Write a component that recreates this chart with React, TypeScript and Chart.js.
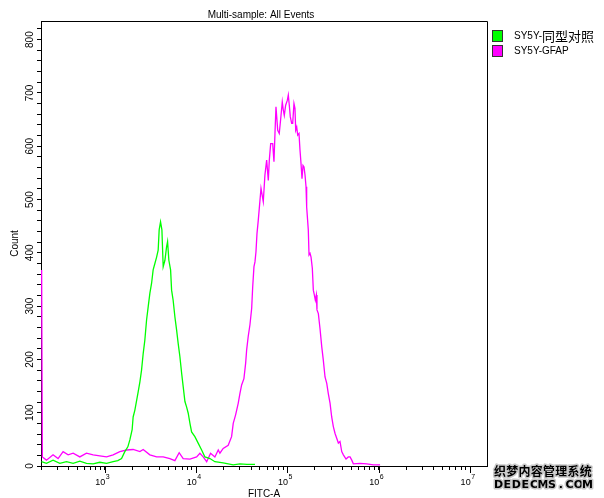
import { useEffect, useRef } from 'react';
import { Chart, registerables } from 'chart.js';

Chart.register(...registerables);

// ---------- text ----------
const chartTitle = 'Multi-sample: All Events';
const xAxisTitle = 'FITC-A';
const yAxisTitle = 'Count';
const seriesLabels = ['SY5Y-同型对照', 'SY5Y-GFAP'];
const seriesColors = ['#00ff00', '#ff00ff'];
const watermarkLines = ['织梦内容管理系统', 'DEDECMS.COM'];

// ---------- axes ----------
const xMin = 200;
const xMax = 1.53e7;
const yMin = 0;
const yMax = 835;
const xMantissas = [1, 2, 3, 4, 5, 6, 7, 8, 9];
const xExponents = [2, 3, 4, 5, 6, 7];
const xMajorExponents = [3, 4, 5, 6, 7];
const yTickStep = 20;
const yLabelValues = [0, 100, 200, 300, 400, 500, 600, 700, 800];

// ---------- series: isotype control (log10 FITC-A, count) ----------
const isotypeLogFitc = [
  2.306, 2.361, 2.433, 2.507, 2.58, 2.653, 2.726, 2.799, 2.872, 2.945,
  3.019, 3.091, 3.142, 3.183, 3.219, 3.252, 3.274, 3.299, 3.31, 3.329,
  3.365, 3.384, 3.402, 3.42, 3.438, 3.457, 3.475, 3.493, 3.512, 3.529,
  3.548, 3.567, 3.584, 3.595, 3.61, 3.625, 3.639, 3.658, 3.676, 3.687,
  3.701, 3.72, 3.731, 3.748, 3.767, 3.786, 3.803, 3.822, 3.841, 3.858,
  3.877, 3.895, 3.913, 3.932, 3.95, 3.986, 4.022, 4.06, 4.096, 4.151,
  4.205, 4.296, 4.406, 4.479, 4.556, 4.644,
];
const isotypeCount = [
  8, 5, 11, 5, 8, 5, 9, 5, 4, 7,
  5, 8, 10, 14, 27, 36, 49, 68, 92, 105,
  139, 158, 180, 211, 236, 274, 299, 324, 343, 368,
  380, 392, 405, 443, 458, 443, 374, 386, 411, 421,
  386, 368, 330, 311, 280, 255, 230, 205, 174, 149,
  121, 111, 99, 80, 64, 55, 43, 30, 17, 14,
  8, 6, 2, 4, 3, 3,
];

// ---------- series: GFAP (log10 FITC-A, count) ----------
const gfapLogFitc = [
  2.308, 2.316, 2.361, 2.433, 2.488, 2.543, 2.598, 2.653, 2.726, 2.799,
  2.872, 2.945, 3.019, 3.091, 3.164, 3.238, 3.31, 3.384, 3.42, 3.493,
  3.567, 3.639, 3.712, 3.767, 3.814, 3.858, 3.932, 4.005, 4.041, 4.077,
  4.115, 4.158, 4.205, 4.242, 4.26, 4.296, 4.351, 4.388, 4.406, 4.432,
  4.461, 4.479, 4.498, 4.523, 4.542, 4.553, 4.57, 4.589, 4.608, 4.619,
  4.633, 4.644, 4.655, 4.666, 4.68, 4.691, 4.71, 4.735, 4.753, 4.772,
  4.79, 4.801, 4.816, 4.838, 4.852, 4.863, 4.874, 4.893, 4.91, 4.926,
  4.943, 4.954, 4.965, 4.98, 4.998, 5.009, 5.02, 5.031, 5.046, 5.057,
  5.071, 5.082, 5.09, 5.101, 5.112, 5.126, 5.137, 5.148, 5.159, 5.17,
  5.181, 5.192, 5.203, 5.21, 5.228, 5.236, 5.247, 5.258, 5.272, 5.283,
  5.294, 5.305, 5.316, 5.323, 5.338, 5.356, 5.375, 5.392, 5.411, 5.43,
  5.447, 5.466, 5.484, 5.502, 5.521, 5.539, 5.557, 5.575, 5.594, 5.612,
  5.641, 5.666, 5.685, 5.704, 5.721, 5.795, 5.868, 5.94, 6.014,
];
const gfapCount = [
  368, 17, 11, 21, 14, 27, 21, 24, 17, 24,
  21, 19, 17, 21, 27, 30, 31, 27, 31, 21,
  17, 17, 14, 10, 25, 14, 13, 17, 24, 17,
  8, 24, 17, 30, 24, 33, 39, 55, 80, 96,
  118, 136, 152, 164, 193, 218, 243, 265, 296, 336,
  374, 383, 402, 436, 461, 483, 521, 496, 546, 574,
  536, 574, 605, 605, 571, 624, 674, 630, 624, 652,
  683, 668, 658, 677, 686, 696, 677, 655, 643, 643,
  680, 671, 630, 636, 621, 624, 593, 568, 539, 564,
  561, 546, 524, 486, 443, 396, 399, 392, 371, 330,
  321, 311, 321, 293, 286, 258, 224, 199, 167, 155,
  136, 118, 92, 74, 61, 52, 43, 46, 27, 21,
  13, 17, 17, 11, 4, 5, 4, 2, 2,
];

const FONT = '"Liberation Sans", Arial, "DejaVu Sans", sans-serif';
const CJK = '"Noto Sans CJK SC", sans-serif';

function toPoints(logs: number[], counts: number[]) {
  return logs.map((e, i) => ({ x: Math.pow(10, e), y: counts[i] }));
}

const xTickValues: number[] = [];
xExponents.forEach((n) =>
  xMantissas.forEach((m) => {
    const v = m * Math.pow(10, n);
    if (v >= xMin && v <= xMax) xTickValues.push(v);
  })
);
const yTickValues: number[] = [];
for (let v = yMin; v <= yMax; v += yTickStep) yTickValues.push(v);

const decorPlugin = {
  id: 'decor',
  afterDraw(chart: any) {
    const { ctx, chartArea: a, scales } = chart;
    const xs = scales.x;
    const ys = scales.y;
    ctx.save();
    ctx.strokeStyle = '#000';
    ctx.lineWidth = 1;
    ctx.beginPath();
    ctx.moveTo(a.left, Math.round(a.top) + 0.5);
    ctx.lineTo(Math.round(a.right) + 0.5, Math.round(a.top) + 0.5);
    ctx.lineTo(Math.round(a.right) + 0.5, Math.round(a.bottom));
    xMajorExponents.forEach((n) => {
      const px = Math.round(xs.getPixelForValue(Math.pow(10, n))) + 0.5;
      ctx.moveTo(px, a.bottom);
      ctx.lineTo(px, a.bottom + 7);
    });
    ctx.stroke();

    ctx.fillStyle = '#000';
    ctx.font = `10px ${FONT}`;
    ctx.textAlign = 'center';
    ctx.textBaseline = 'alphabetic';
    yLabelValues.forEach((v) => {
      const py = ys.getPixelForValue(v);
      ctx.save();
      ctx.translate(33.3, py);
      ctx.rotate(-Math.PI / 2);
      ctx.fillText(String(v), 0, 0);
      ctx.restore();
    });
    ctx.save();
    ctx.translate(18.3, (a.top + a.bottom) / 2);
    ctx.rotate(-Math.PI / 2);
    ctx.fillText(yAxisTitle, 0, 0);
    ctx.restore();

    xMajorExponents.forEach((n) => {
      const px = xs.getPixelForValue(Math.pow(10, n));
      ctx.font = `9px ${FONT}`;
      ctx.textAlign = 'right';
      ctx.fillText('10', px + 0.5, 484.5);
      ctx.font = `7px ${FONT}`;
      ctx.textAlign = 'left';
      ctx.fillText(String(n), px + 1, 479);
    });
    ctx.font = `10px ${FONT}`;
    ctx.textAlign = 'center';
    ctx.fillText(xAxisTitle, (a.left + a.right) / 2, 496.5);
    ctx.fillText(chartTitle, 261, 18);

    chart.data.datasets.forEach((ds: any, i: number) => {
      const by = 31 + i * 15;
      ctx.fillStyle = ds.borderColor;
      ctx.fillRect(493, by, 9, 10);
      ctx.strokeStyle = '#333';
      ctx.lineWidth = 1;
      ctx.strokeRect(492.5, by - 0.5, 10, 11);
      ctx.fillStyle = '#000';
      ctx.textAlign = 'left';
      ctx.textBaseline = 'middle';
      let tx = 514;
      const runs: string[] = ds.label.match(/[\u3400-\u9fff]+|[^\u3400-\u9fff]+/g) || [];
      runs.forEach((r) => {
        const isCjk = /[\u3400-\u9fff]/.test(r);
        ctx.font = isCjk ? `13px ${CJK}` : `10px ${FONT}`;
        ctx.fillText(r, tx, by + 5.5);
        tx += ctx.measureText(r).width;
      });
    });

    ctx.textBaseline = 'middle';
    ctx.textAlign = 'center';
    ctx.lineJoin = 'round';
    const drawSpaced = (text: string, font: string, x0: number, pitch: number, y: number) => {
      ctx.font = font;
      Array.from(text).forEach((ch, i) => {
        const cx = x0 + pitch * i + pitch / 2;
        ctx.lineWidth = 3;
        ctx.strokeStyle = '#c8c8c8';
        ctx.strokeText(ch, cx, y);
        ctx.fillStyle = '#000';
        ctx.fillText(ch, cx, y);
      });
    };
    drawSpaced(watermarkLines[0], `bold 12px ${CJK}`, 494, 12.25, 471);
    drawSpaced(watermarkLines[1], 'bold 11px "DejaVu Sans", sans-serif', 494, 8.9, 485);
    ctx.restore();
  },
};

export default function App() {
  const ref = useRef<HTMLCanvasElement | null>(null);
  useEffect(() => {
    if (!ref.current) return;
    const chart = new Chart(ref.current, {
      type: 'line',
      data: {
        datasets: [
          {
            label: seriesLabels[0],
            data: toPoints(isotypeLogFitc, isotypeCount),
            borderColor: seriesColors[0],
            backgroundColor: seriesColors[0],
            borderWidth: 1.3,
            pointRadius: 0,
            tension: 0,
            fill: false,
          },
          {
            label: seriesLabels[1],
            data: toPoints(gfapLogFitc, gfapCount),
            borderColor: seriesColors[1],
            backgroundColor: seriesColors[1],
            borderWidth: 1.3,
            pointRadius: 0,
            tension: 0,
            fill: false,
          },
        ],
      },
      options: {
        animation: false,
        responsive: false,
        devicePixelRatio: 1,
        events: [],
        layout: { padding: { top: 21, right: 117, left: 0, bottom: 0 } },
        plugins: {
          legend: { display: false },
          title: { display: false },
          tooltip: { enabled: false },
        },
        scales: {
          x: {
            type: 'logarithmic',
            min: xMin,
            max: xMax,
            grid: { drawOnChartArea: false, drawTicks: true, tickLength: 4, color: '#000', tickColor: '#000' },
            border: { display: true, color: '#000', width: 1 },
            ticks: { display: false },
            afterBuildTicks: (s: any) => {
              s.ticks = xTickValues.map((v) => ({ value: v }));
            },
            afterFit: (s: any) => {
              s.height = 32;
            },
          },
          y: {
            type: 'linear',
            min: yMin,
            max: yMax,
            grid: { drawOnChartArea: false, drawTicks: true, tickLength: 4, color: '#000', tickColor: '#000' },
            border: { display: true, color: '#000', width: 1 },
            ticks: { display: false },
            afterBuildTicks: (s: any) => {
              s.ticks = yTickValues.map((v) => ({ value: v }));
            },
            afterFit: (s: any) => {
              s.width = 41;
            },
          },
        },
      } as any,
      plugins: [decorPlugin],
    });
    return () => chart.destroy();
  }, []);
  return (
    <div style={{ position: 'fixed', left: 0, top: 0, width: 604, height: 498, background: '#fff' }}>
      <canvas ref={ref} width={604} height={498} style={{ display: 'block' }} />
    </div>
  );
}
